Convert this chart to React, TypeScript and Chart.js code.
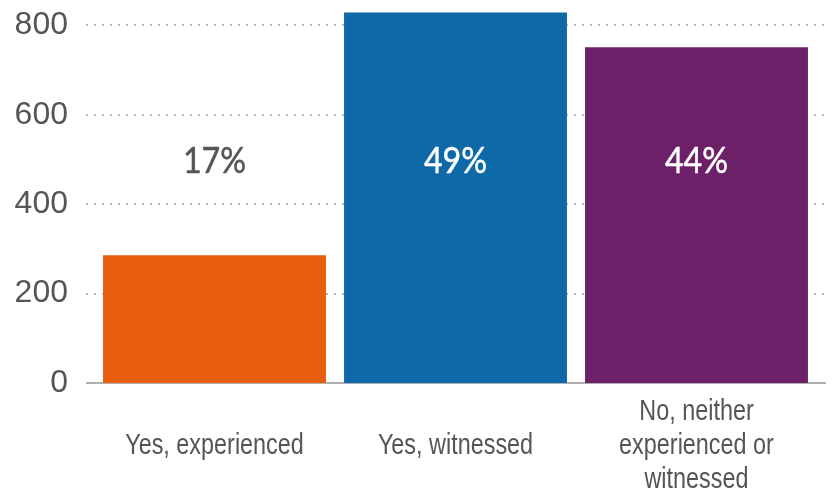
import React, { useEffect, useRef } from "react";
import { Chart, registerables } from "chart.js";

Chart.register(...registerables);

const categories: string[][] = [
  ["Yes, experienced"],
  ["Yes, witnessed"],
  ["No, neither", "experienced or", "witnessed"],
];
const counts: number[] = [286, 829, 751];
const percentLabels: string[] = ["17%", "49%", "44%"];
const barColors: string[] = ["#E95D0F", "#0E69A8", "#6B2067"];
const percentColors: string[] = ["#555555", "#FFFFFF", "#FFFFFF"];
const yTicks: number[] = [0, 200, 400, 600, 800];

const Y_MAX = 830;
const PERCENT_LEVEL = 496;
const X_LABEL_NARROW = 0.78;
const PERCENT_NARROW = 0.87;

const gridPlugin = {
  id: "dotGrid",
  beforeDatasetsDraw(chart: any) {
    const { ctx, chartArea, scales } = chart;
    const y = scales.y;
    const x0 = chartArea.left - 8;
    const x1 = chartArea.right + 9;
    ctx.save();
    yTicks.forEach((v) => {
      const py = Math.round(y.getPixelForValue(v));
      ctx.beginPath();
      if (v === 0) {
        ctx.setLineDash([]);
        ctx.strokeStyle = "#B0B0B0";
      } else {
        ctx.setLineDash([2, 6]);
        ctx.strokeStyle = "#BBBBBB";
      }
      ctx.lineWidth = 2;
      ctx.moveTo(x0, py);
      ctx.lineTo(x1, py);
      ctx.stroke();
    });
    ctx.restore();
  },
};

const percentPlugin = {
  id: "percentLabels",
  afterDatasetsDraw(chart: any) {
    const { ctx, scales } = chart;
    const meta = chart.getDatasetMeta(0);
    const py = scales.y.getPixelForValue(PERCENT_LEVEL);
    ctx.save();
    ctx.font = "400 37px Lato, 'Noto Sans', sans-serif";
    ctx.textAlign = "center";
    ctx.textBaseline = "middle";
    ctx.lineJoin = "round";
    meta.data.forEach((bar: any, i: number) => {
      ctx.save();
      ctx.translate(bar.x, py);
      ctx.scale(PERCENT_NARROW, 1);
      ctx.fillStyle = percentColors[i];
      ctx.strokeStyle = percentColors[i];
      ctx.lineWidth = 0.5;
      ctx.fillText(percentLabels[i], 0, 0);
      ctx.strokeText(percentLabels[i], 0, 0);
      ctx.restore();
    });
    ctx.restore();
  },
};

function narrowLabels(scale: any) {
  if (scale._narrowWrapped) return;
  scale._narrowWrapped = true;
  const original = scale.drawLabels.bind(scale);
  scale.drawLabels = (area: any) => {
    const ctx = scale.ctx;
    const proto = Object.getPrototypeOf(ctx);
    const fill = proto.fillText;
    ctx.fillText = function (text: string, x: number, y: number) {
      this.save();
      this.translate(x, y);
      this.scale(X_LABEL_NARROW, 1);
      fill.call(this, text, 0, 0);
      this.restore();
    };
    try {
      original(area);
    } finally {
      delete ctx.fillText;
    }
  };
}

export default function App() {
  const canvasRef = useRef<HTMLCanvasElement | null>(null);

  useEffect(() => {
    if (!canvasRef.current) return;
    const chart = new Chart(canvasRef.current, {
      type: "bar",
      data: {
        labels: categories,
        datasets: [
          {
            data: counts,
            backgroundColor: barColors,
            borderWidth: 0,
            barPercentage: 0.925,
            categoryPercentage: 1,
          },
        ],
      },
      options: {
        animation: false,
        responsive: true,
        maintainAspectRatio: false,
        layout: { padding: { left: 13, right: 15, top: 12, bottom: 0 } },
        plugins: {
          legend: { display: false },
          tooltip: { enabled: false },
        },
        scales: {
          x: {
            type: "category",
            offset: true,
            grid: { display: false, drawTicks: false },
            border: { display: false },
            ticks: {
              color: "#555555",
              padding: 29,
              crossAlign: "center",
              maxRotation: 0,
              autoSkip: false,
              font: {
                family: "'Liberation Sans', Arial, sans-serif",
                size: 30,
                lineHeight: 1.13,
              },
            },
            afterFit: (scale: any) => {
              scale.height = 109;
              narrowLabels(scale);
            },
          },
          y: {
            min: 0,
            max: Y_MAX,
            grid: { display: false, drawTicks: false },
            border: { display: false },
            afterBuildTicks: (scale: any) => {
              scale.ticks = yTicks.map((v) => ({ value: v }));
            },
            ticks: {
              color: "#555555",
              padding: 26,
              font: { family: "'Liberation Sans', Arial, sans-serif", size: 32 },
            },
            afterFit: (scale: any) => {
              scale.width = 81;
              scale.paddingTop = 0;
              scale.paddingBottom = 0;
            },
          },
        },
      },
      plugins: [gridPlugin, percentPlugin],
    });
    return () => chart.destroy();
  }, []);

  return (
    <div style={{ position: "fixed", left: 0, top: 0, width: 832, height: 492, background: "#FFFFFF" }}>
      <canvas ref={canvasRef} />
    </div>
  );
}
